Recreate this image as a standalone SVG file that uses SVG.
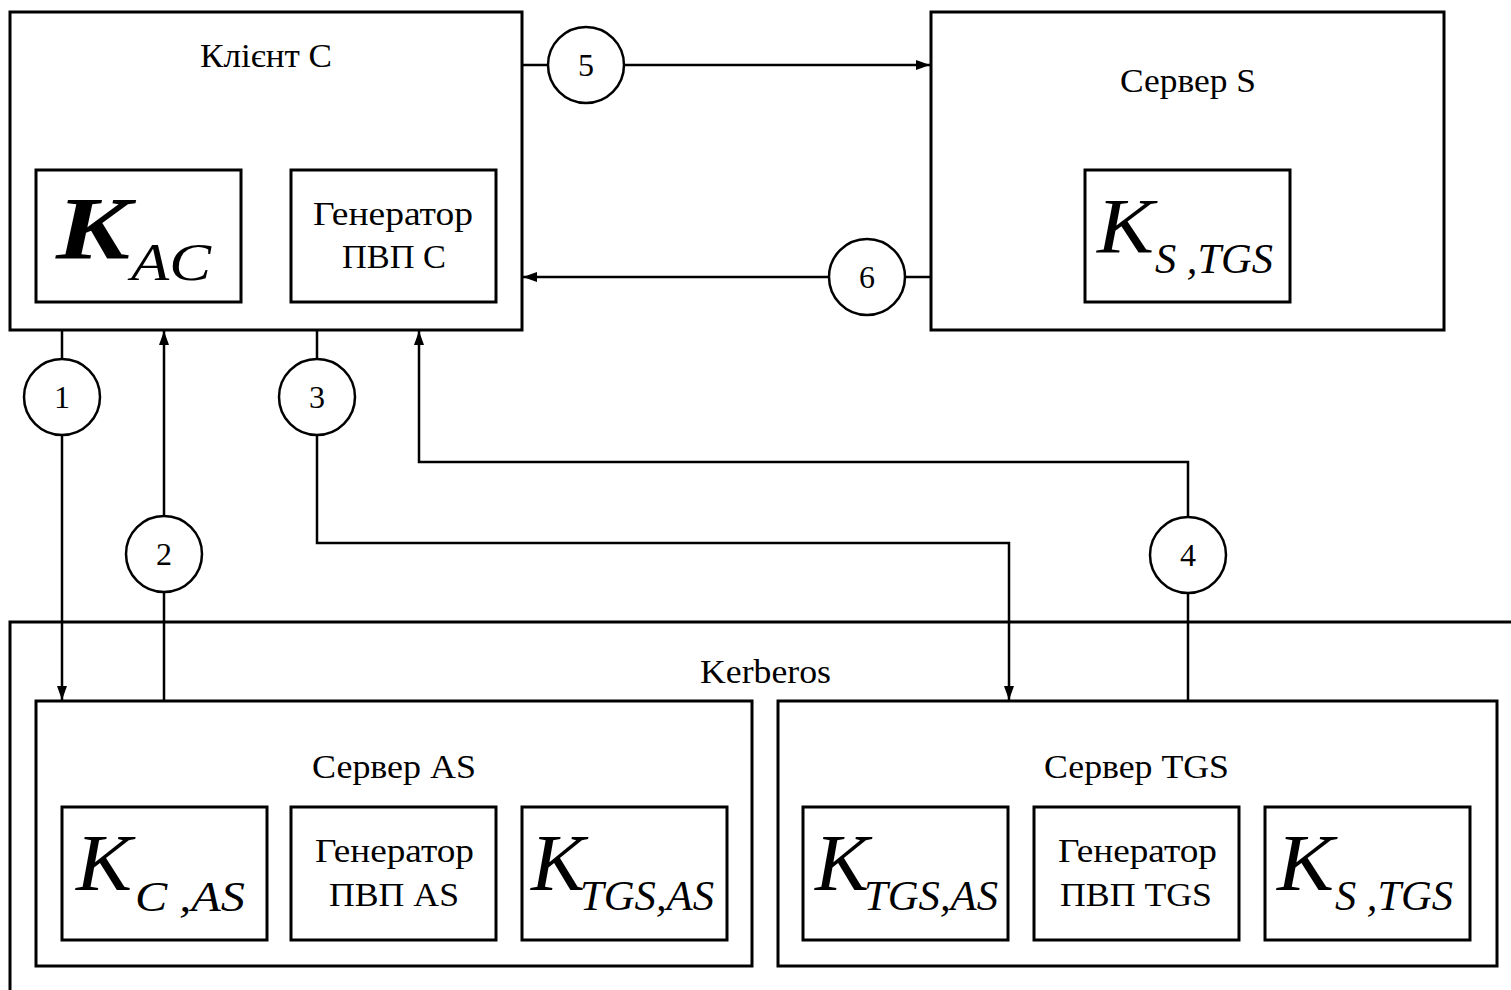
<svg xmlns="http://www.w3.org/2000/svg" width="1511" height="990" viewBox="0 0 1511 990">
<style>
.box{fill:none;stroke:#000;stroke-width:3}
.ln{fill:none;stroke:#000;stroke-width:2.5}
.circ{fill:#fff;stroke:#000;stroke-width:2.5}
.t{font-family:"Liberation Serif","Times New Roman",serif;fill:#000}
.lbl{font-size:33px}
.num{font-size:32px;text-anchor:middle}
.k{font-style:italic}
</style>
<defs>
<marker id="arr" viewBox="0 0 14 10" refX="14" refY="5" markerWidth="14" markerHeight="10" markerUnits="userSpaceOnUse" orient="auto">
<path d="M0,0 L14,5 L0,10 Z" fill="#000"/>
</marker>
</defs>
<rect width="1511" height="990" fill="#fff"/>

<g id="kerberos">
<rect class="box" x="10" y="622" width="1530" height="400"/>
<text class="t lbl" x="700" y="683" textLength="131" lengthAdjust="spacingAndGlyphs">Kerberos</text>
</g>

<g id="client">
<rect class="box" x="10" y="12" width="512" height="318"/>
<text class="t lbl" x="200" y="67" textLength="132" lengthAdjust="spacingAndGlyphs">Клієнт С</text>
</g>
<g id="k-ac">
<rect class="box" x="36" y="170" width="205" height="132"/>
<text class="t k" x="56" y="258" font-size="88" font-weight="bold" textLength="74" lengthAdjust="spacingAndGlyphs">K</text>
<text class="t k" x="131" y="280" font-size="53" textLength="80" lengthAdjust="spacingAndGlyphs">AC</text>
</g>
<g id="gen-c">
<rect class="box" x="291" y="170" width="205" height="132"/>
<text class="t lbl" x="313" y="225" textLength="160" lengthAdjust="spacingAndGlyphs">Генератор</text>
<text class="t lbl" x="342" y="268" textLength="104" lengthAdjust="spacingAndGlyphs">ПВП С</text>
</g>

<g id="server-s">
<rect class="box" x="931" y="12" width="513" height="318"/>
<text class="t lbl" x="1120" y="92" textLength="136" lengthAdjust="spacingAndGlyphs">Сервер S</text>
</g>
<g id="k-s-tgs-s">
<rect class="box" x="1085" y="170" width="205" height="132"/>
<text class="t k" x="1097" y="252" font-size="78" textLength="57" lengthAdjust="spacingAndGlyphs">K</text>
<text class="t k" x="1155" y="273" font-size="42" textLength="118" lengthAdjust="spacingAndGlyphs">S ,TGS</text>
</g>

<g id="server-as">
<rect class="box" x="36" y="701" width="716" height="265"/>
<text class="t lbl" x="312" y="778" textLength="164" lengthAdjust="spacingAndGlyphs">Сервер AS</text>
</g>
<g id="k-c-as">
<rect class="box" x="62" y="807" width="205" height="133"/>
<text class="t k" x="76" y="890" font-size="80" textLength="56" lengthAdjust="spacingAndGlyphs">K</text>
<text class="t k" x="135" y="911" font-size="42" textLength="110" lengthAdjust="spacingAndGlyphs">C ,AS</text>
</g>
<g id="gen-as">
<rect class="box" x="291" y="807" width="205" height="133"/>
<text class="t lbl" x="315" y="862" textLength="159" lengthAdjust="spacingAndGlyphs">Генератор</text>
<text class="t lbl" x="329" y="906" textLength="130" lengthAdjust="spacingAndGlyphs">ПВП AS</text>
</g>
<g id="k-tgs-as-1">
<rect class="box" x="522" y="807" width="205" height="133"/>
<text class="t k" x="531" y="890" font-size="80" textLength="54" lengthAdjust="spacingAndGlyphs">K</text>
<text class="t k" x="580" y="910" font-size="42" textLength="134" lengthAdjust="spacingAndGlyphs">TGS,AS</text>
</g>

<g id="server-tgs">
<rect class="box" x="778" y="701" width="719" height="265"/>
<text class="t lbl" x="1044" y="778" textLength="185" lengthAdjust="spacingAndGlyphs">Сервер TGS</text>
</g>
<g id="k-tgs-as-2">
<rect class="box" x="803" y="807" width="205" height="133"/>
<text class="t k" x="815" y="890" font-size="80" textLength="54" lengthAdjust="spacingAndGlyphs">K</text>
<text class="t k" x="864" y="910" font-size="42" textLength="134" lengthAdjust="spacingAndGlyphs">TGS,AS</text>
</g>
<g id="gen-tgs">
<rect class="box" x="1034" y="807" width="205" height="133"/>
<text class="t lbl" x="1058" y="862" textLength="159" lengthAdjust="spacingAndGlyphs">Генератор</text>
<text class="t lbl" x="1060" y="906" textLength="152" lengthAdjust="spacingAndGlyphs">ПВП TGS</text>
</g>
<g id="k-s-tgs-tgs">
<rect class="box" x="1265" y="807" width="205" height="133"/>
<text class="t k" x="1277" y="890" font-size="80" textLength="57" lengthAdjust="spacingAndGlyphs">K</text>
<text class="t k" x="1335" y="910" font-size="42" textLength="118" lengthAdjust="spacingAndGlyphs">S ,TGS</text>
</g>

<g id="connectors">
<path class="ln" d="M62,330 V700" marker-end="url(#arr)"/>
<path class="ln" d="M164,701 V331" marker-end="url(#arr)"/>
<path class="ln" d="M317,330 V543 H1009 V700" marker-end="url(#arr)"/>
<path class="ln" d="M1188,701 V462 H419 V331" marker-end="url(#arr)"/>
<path class="ln" d="M522,65 H930" marker-end="url(#arr)"/>
<path class="ln" d="M931,277 H523" marker-end="url(#arr)"/>
<circle class="circ" cx="62" cy="397" r="38"/>
<circle class="circ" cx="164" cy="554" r="38"/>
<circle class="circ" cx="317" cy="397" r="38"/>
<circle class="circ" cx="1188" cy="555" r="38"/>
<circle class="circ" cx="586" cy="65" r="38"/>
<circle class="circ" cx="867" cy="277" r="38"/>
<text class="t num" x="62" y="408">1</text>
<text class="t num" x="164" y="565">2</text>
<text class="t num" x="317" y="408">3</text>
<text class="t num" x="1188" y="566">4</text>
<text class="t num" x="586" y="76">5</text>
<text class="t num" x="867" y="288">6</text>
</g>
</svg>
